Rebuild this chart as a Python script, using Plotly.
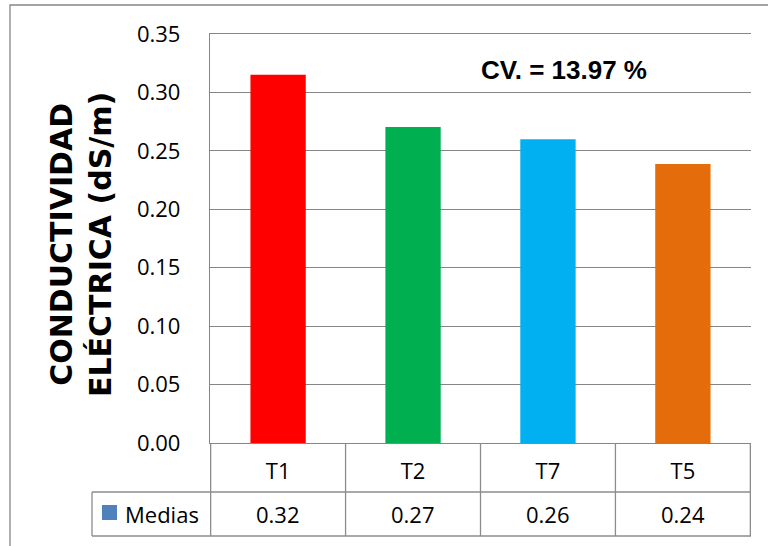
import plotly.graph_objects as go

# Treatment means of electrical conductivity
categories = ["T1", "T2", "T7", "T5"]
medias = [0.3152, 0.2704, 0.2600, 0.2387]
bar_colors = ["#FF0000", "#00B050", "#00B0F0", "#E46C0A"]
y_ticks = [0.00, 0.05, 0.10, 0.15, 0.20, 0.25, 0.30, 0.35]
series_name = "Medias"
cv_label = "CV. = 13.97 %"
y_title = "CONDUCTIVIDAD<br>ELÉCTRICA (dS/m)"

# Canvas and plot-area geometry (pixels)
W, H = 768, 546
ML, MR, MT, MB = 210, 17, 34, 103
GRID = "#868686"
TABLE = "#8C8C8C"
TICK_FONT = dict(family="Open Sans", size=22, color="black")


def px_x(p):
    return (p - ML) / (W - ML - MR)


def px_y(p):
    return (H - MB - p) / (H - MT - MB)


fig = go.Figure(
    go.Bar(
        x=categories,
        y=medias,
        marker=dict(color=bar_colors, line=dict(width=0)),
        width=0.41,
        name=series_name,
        showlegend=False,
    )
)

shapes = []
# outer chart frame
shapes.append(dict(type="rect", xref="paper", yref="paper",
                   x0=px_x(10), x1=px_x(820), y0=px_y(600), y1=px_y(5),
                   line=dict(color="#868686", width=1.3), fillcolor="rgba(0,0,0,0)",
                   layer="below"))
# data table: horizontal rules
for yy in (492, 536):
    shapes.append(dict(type="line", xref="paper", yref="paper",
                       x0=px_x(92), x1=1, y0=px_y(yy), y1=px_y(yy),
                       line=dict(color=TABLE, width=1.3)))
# data table: column separators on category boundaries
for b in [i - 0.5 for i in range(len(categories) + 1)]:
    shapes.append(dict(type="line", xref="x", yref="paper",
                       x0=b, x1=b, y0=0, y1=px_y(536),
                       line=dict(color=TABLE, width=1.3)))
# series-name cell left edge
shapes.append(dict(type="line", xref="paper", yref="paper",
                   x0=px_x(92), x1=px_x(92), y0=px_y(492), y1=px_y(536),
                   line=dict(color=TABLE, width=1.3)))
# legend key
shapes.append(dict(type="rect", xref="paper", yref="paper",
                   x0=px_x(102), x1=px_x(117), y0=px_y(520), y1=px_y(505),
                   line=dict(width=0), fillcolor="#4F81BD"))

annotations = []
annotations.append(dict(text=series_name, xref="paper", yref="paper",
                        x=px_x(123), y=px_y(514), xanchor="left", yanchor="middle",
                        showarrow=False, font=TICK_FONT))
for c, v in zip(categories, medias):
    annotations.append(dict(text=f"{v:.2f}", xref="x", yref="paper",
                            x=c, y=px_y(514), xanchor="center", yanchor="middle",
                            showarrow=False, font=TICK_FONT))
annotations.append(dict(text=f"<b>{cv_label}</b>", xref="paper", yref="paper",
                        x=px_x(564), y=px_y(70), xanchor="center", yanchor="middle",
                        showarrow=False,
                        font=dict(family="Liberation Sans", size=26, color="black")))
annotations.append(dict(text=f"<b>{y_title}</b>", xref="paper", yref="paper",
                        x=px_x(81), y=px_y(245), xanchor="center", yanchor="middle",
                        textangle=-90, showarrow=False, align="center",
                        font=dict(family="DejaVu Sans", size=30, color="black")))

fig.update_layout(
    width=W, height=H,
    margin=dict(l=ML, r=MR, t=MT, b=MB, pad=0),
    paper_bgcolor="white", plot_bgcolor="white",
    shapes=shapes, annotations=annotations,
    bargap=0.59,
)
fig.update_xaxes(
    showline=True, mirror=True, linecolor=GRID, linewidth=1.3,
    showgrid=False, ticks="", tickfont=TICK_FONT, ticklabelstandoff=8,
)
fig.update_yaxes(
    range=[0, 0.35], tickvals=y_ticks, tickformat=".2f",
    showline=True, linecolor=GRID, linewidth=1.3,
    showgrid=True, gridcolor=GRID, gridwidth=1.3, zeroline=False,
    ticks="", tickfont=TICK_FONT, ticklabelstandoff=24,
)

fig.write_html("out.html")
